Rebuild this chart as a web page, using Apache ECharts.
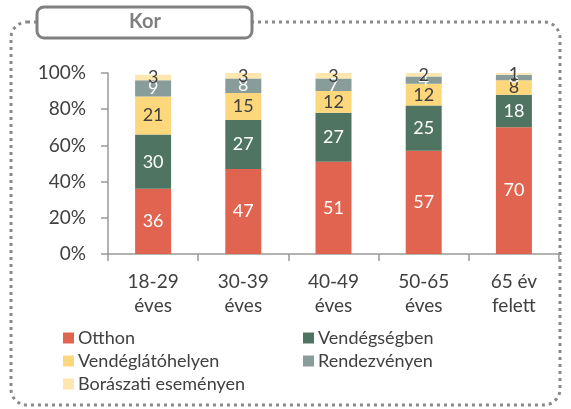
<!DOCTYPE html>
<html>
<head>
<meta charset="utf-8">
<script src="https://cdn.jsdelivr.net/npm/echarts@6/dist/echarts.min.js"></script>
<style>
  html, body { margin: 0; padding: 0; background: #fff; }
  #chart { width: 571px; height: 409px; }
</style>
</head>
<body>
<div id="chart"></div>
<script>
const categories = ['18-29\néves', '30-39\néves', '40-49\néves', '50-65\néves', '65 év\nfelett'];
const seriesNames = ['Otthon', 'Vendégségben', 'Vendéglátóhelyen', 'Rendezvényen', 'Borászati eseményen'];
const otthon = [36, 47, 51, 57, 70];
const vendegsegben = [30, 27, 27, 25, 18];
const vendeglatohelyen = [21, 15, 12, 12, 8];
const rendezvenyen = [9, 8, 7, 4, 3];
const boraszati = [3, 3, 3, 2, 1];
const yTicks = [0, 20, 40, 60, 80, 100];

const colors = ['#E0644F', '#4F7562', '#FDD77C', '#889C99', '#FDE7AE'];
const labelColors = ['#fff', '#fff', '#404040', '#fff', '#404040'];
const values = [otthon, vendegsegben, vendeglatohelyen, rendezvenyen, boraszati];
const font = 'Lato, "Open Sans", sans-serif';
const textColor = '#404040';

const chart = echarts.init(document.getElementById('chart'));

const series = seriesNames.map(function (name, i) {
  return {
    name: name,
    type: 'bar',
    stack: 'total',
    barWidth: 36,
    data: values[i],
    itemStyle: { color: colors[i] },
    label: {
      show: true,
      position: 'inside',
      color: labelColors[i],
      fontFamily: font,
      fontSize: 18
    }
  };
});

// legend: two columns, one legend per cell so the columns line up
const legendCells = [
  ['Otthon', 58, 324], ['Vendégségben', 298, 324],
  ['Vendéglátóhelyen', 58, 347], ['Rendezvényen', 298, 347],
  ['Borászati eseményen', 58, 370]
];
const legends = legendCells.map(function (c) {
  return {
    left: c[1], top: c[2], itemWidth: 11, itemHeight: 11, itemGap: 5,
    icon: 'rect',
    textStyle: { color: textColor, fontFamily: font, fontSize: 18, padding: [0, 0, 0, -1] },
    data: [c[0]]
  };
});

chart.setOption({
  animation: false,
  grid: { left: 108, right: 12, top: 73, bottom: 155 },
  graphic: [
    {
      type: 'rect',
      shape: { x: 11, y: 22, width: 549, height: 383, r: 16 },
      style: { fill: 'none', stroke: '#8a8a8a', lineWidth: 3, lineDash: [3, 4] },
      z: 0
    },
    {
      type: 'rect',
      shape: { x: 37, y: 7, width: 215, height: 31, r: 7 },
      style: { fill: '#fff', stroke: '#808080', lineWidth: 3 },
      z: 10
    },
    {
      type: 'text',
      x: 145, y: 22,
      style: {
        text: 'Kor', fill: '#808080', fontFamily: font, fontSize: 20, fontWeight: 'bold',
        align: 'center', verticalAlign: 'middle'
      },
      z: 11
    }
  ],
  legend: legends,
  xAxis: {
    type: 'category',
    data: categories,
    axisLine: { lineStyle: { color: '#999', width: 1.5 } },
    axisTick: { show: true, length: 7, lineStyle: { color: '#999', width: 1.5 } },
    axisLabel: { color: textColor, fontFamily: font, fontSize: 19, lineHeight: 24, margin: 16 }
  },
  yAxis: {
    type: 'value',
    min: yTicks[0],
    max: yTicks[yTicks.length - 1],
    interval: 20,
    splitLine: { show: false },
    axisLine: { show: true, lineStyle: { color: '#999', width: 1.5 } },
    axisTick: { show: true, length: 7, lineStyle: { color: '#999', width: 1.5 } },
    axisLabel: { color: textColor, fontFamily: font, fontSize: 19, margin: 22, formatter: '{value}%' }
  },
  series: series
});
</script>
</body>
</html>
